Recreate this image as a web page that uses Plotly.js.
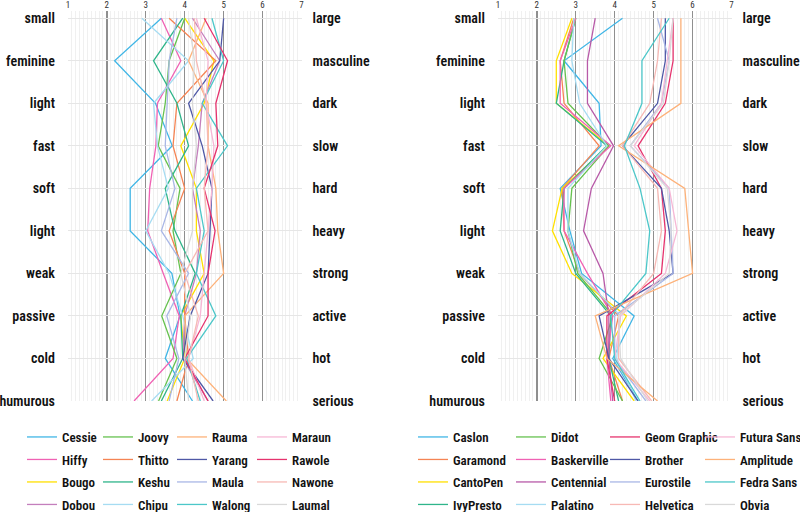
<!DOCTYPE html>
<html>
<head>
<meta charset="utf-8">
<script src="https://cdn.plot.ly/plotly-3.0.1.min.js"></script>
<style>
html,body{margin:0;padding:0;background:#fff;}
#chart{width:800px;height:512px;}
</style>
</head>
<body>
<div id="chart"></div>
<script>
// Row labels (left pole / right pole)
const leftPoles = ['small','feminine','light','fast','soft','light','weak','passive','cold','humurous'];
const rightPoles = ['large','masculine','dark','slow','hard','heavy','strong','active','hot','serious'];
const scaleTicks = [1,2,3,4,5,6,7];

// Panel 1 fonts (values per row, top to bottom)
const panel1Names = ['Cessie','Hiffy','Bougo','Dobou','Joovy','Thitto','Keshu','Chipu','Rauma','Yarang','Maula','Walong','Maraun','Rawole','Nawone','Laumal'];
const cessie = [3.4, 2.2, 3.25, 3.68, 2.6, 2.6, 3.67, 3.88, 3.5, 4.2];
const hiffy  = [3.4, 3.9, 3.3, 3.26, 3.1, 3.05, 3.45, 3.86, 3.7, 2.7];
const bougo  = [4.0, 4.75, 4.5, 3.9, 4.3, 4.3, 4.5, 3.9, 4.0, 3.55];
const dobou  = [4.2, 4.9, 4.45, 4.35, 4.2, 4.4, 4.3, 4.0, 3.95, 4.6];
const joovy  = [4.0, 3.6, 3.5, 3.32, 3.88, 3.7, 3.9, 3.41, 3.8, 3.33];
const thitto = [3.6, 4.8, 3.8, 3.7, 4.0, 3.6, 4.0, 4.0, 4.1, 3.8];
const keshu  = [3.95, 3.2, 3.8, 4.1, 3.5, 3.75, 4.27, 3.9, 3.95, 3.4];
const chipu  = [2.9, 4.1, 3.2, 3.3, 3.58, 3.0, 3.6, 3.95, 4.22, 3.15];
const rauma  = [4.55, 4.1, 4.6, 4.6, 4.8, 4.85, 5.0, 4.0, 4.05, 5.07];
const yarang = [5.0, 4.9, 4.1, 4.45, 4.7, 4.65, 4.6, 4.14, 3.95, 4.73];
const maula  = [3.8, 3.6, 3.55, 3.5, 3.75, 3.4, 4.1, 3.54, 3.85, 3.6];
const walong = [4.7, 5.0, 4.45, 5.1, 4.3, 4.5, 4.3, 4.8, 4.05, 4.4];
const maraun = [4.3, 4.6, 4.55, 4.75, 4.7, 4.6, 4.5, 4.4, 4.1, 4.5];
const rawole = [4.5, 5.1, 4.8, 4.85, 4.5, 4.78, 4.6, 4.6, 4.0, 4.6];
const nawone = [4.25, 4.3, 4.55, 4.6, 4.5, 4.6, 4.0, 4.35, 4.1, 4.35];
const laumal = [4.1, 4.25, 4.2, 4.3, 4.2, 4.2, 3.9, 4.15, 4.0, 4.1];
const panel1Values = [cessie,hiffy,bougo,dobou,joovy,thitto,keshu,chipu,rauma,yarang,maula,walong,maraun,rawole,nawone,laumal];
const panel1Colors = ['#41b6e6','#f062b4','#ffe000','#c47fbc','#66c24f','#f58454','#2fb58a','#a6dcf2','#fdb27a','#4f58a6','#a9b7e6','#4cc7c9','#f6b8d6','#e6336e','#f7b9b5','#d9d9d9'];

// Panel 2 fonts
const panel2Names = ['Caslon','Garamond','CantoPen','IvyPresto','Didot','Baskerville','Centennial','Palatino','Geom Graphic','Brother','Eurostile','Helvetica','Futura Sans','Amplitude','Fedra Sans','Obvia'];
const caslon      = [4.2, 2.7, 3.6, 3.65, 2.6, 2.85, 3.15, 4.5, 3.95, 4.6];
const garamond    = [2.95, 2.6, 2.7, 3.6, 2.65, 2.7, 3.1, 4.1, 3.85, 4.2];
const cantopen    = [2.9, 2.5, 2.5, 3.85, 2.65, 2.4, 2.9, 4.3, 3.7, 4.5];
const ivypresto   = [3.0, 2.7, 2.5, 3.8, 2.7, 2.6, 3.0, 3.9, 3.85, 4.1];
const didot       = [3.0, 2.7, 2.8, 3.85, 2.9, 2.8, 3.05, 3.95, 3.6, 4.2];
const baskerville = [3.0, 2.6, 2.6, 3.9, 2.7, 2.7, 3.3, 3.95, 3.8, 3.9];
const centennial  = [3.5, 3.3, 3.3, 3.97, 3.4, 3.2, 3.7, 3.85, 3.85, 3.95];
const palatino    = [2.95, 2.9, 3.1, 3.8, 2.8, 2.8, 3.1, 4.15, 4.05, 4.55];
const geomGraphic = [5.5, 5.5, 5.3, 4.6, 5.2, 5.3, 5.2, 3.8, 3.8, 4.0];
const brother     = [5.3, 5.3, 5.1, 4.2, 5.2, 5.4, 5.5, 3.6, 3.85, 4.6];
const eurostile   = [5.1, 5.4, 5.2, 4.4, 5.4, 5.45, 5.5, 4.0, 4.0, 4.8];
const helvetica   = [5.2, 5.1, 4.9, 4.2, 5.1, 5.2, 5.0, 4.1, 4.1, 4.95];
const futuraSans  = [5.5, 5.35, 5.2, 4.5, 5.4, 5.6, 5.3, 4.15, 4.0, 4.9];
const amplitude   = [5.7, 5.7, 5.7, 4.1, 5.8, 5.9, 6.0, 3.5, 3.8, 5.1];
const fedraSans   = [5.4, 4.7, 4.7, 4.25, 4.65, 4.9, 4.8, 3.9, 4.0, 4.65];
const obvia       = [5.5, 5.4, 5.25, 4.4, 5.35, 5.45, 5.4, 4.1, 4.15, 4.85];
const panel2Values = [caslon,garamond,cantopen,ivypresto,didot,baskerville,centennial,palatino,geomGraphic,brother,eurostile,helvetica,futuraSans,amplitude,fedraSans,obvia];
const panel2Colors = ['#41b6e6','#f58454','#ffe000','#2fb58a','#66c24f','#f062b4','#b85aa8','#a6dcf2','#e6336e','#4f58a6','#a9b7e6','#f7b9b5','#f6b8d6','#fdb27a','#4cc7c9','#d9d9d9'];

const FONT = '"Roboto Condensed", Roboto, sans-serif';
const rowPos = leftPoles.map((_, i) => i);

const traces = [];
function addPanel(names, values, colors, xa, ya, legendBase) {
  names.forEach((n, i) => {
    const col = Math.floor(i / 4);
    const lg = legendBase + col;
    traces.push({
      type: 'scatter', mode: 'lines', name: n,
      x: values[i], y: rowPos,
      xaxis: xa, yaxis: ya,
      line: {color: colors[i], width: 1.3},
      legend: lg === 1 ? 'legend' : 'legend' + lg,
      legendgroup: n,
      hoverinfo: 'skip'
    });
  });
}
addPanel(panel1Names, panel1Values, panel1Colors, 'x', 'y', 1);
addPanel(panel2Names, panel2Values, panel2Colors, 'x2', 'y3', 5);
// empty traces so the right-hand (overlaying) label axes are registered and drawn
traces.push({type: 'scatter', mode: 'lines', x: [], y: [], xaxis: 'x', yaxis: 'y2', showlegend: false, hoverinfo: 'skip'});
traces.push({type: 'scatter', mode: 'lines', x: [], y: [], xaxis: 'x2', yaxis: 'y4', showlegend: false, hoverinfo: 'skip'});

const W = 800, H = 512;
const yTop = 11, yBot = 401;
const yDomain = [(H - yBot) / H, (H - yTop) / H];
const yRange = [9, -0.17];

function xAxis(domain, anchor) {
  return {
    domain: domain, anchor: anchor, range: [0.995, 7.005], side: 'top',
    tickvals: scaleTicks, ticktext: scaleTicks.map(String),
    tickfont: {family: FONT, size: 9, color: '#333'},
    showgrid: true, gridcolor: '#8f8f8f', gridwidth: 1.4,
    zeroline: false, showline: false, ticks: '',
    minor: {dtick: 0.1, showgrid: true, gridcolor: '#f0f0f0', gridwidth: 1},
    fixedrange: true, automargin: false
  };
}
function yAxis(anchor, text, side, overlay) {
  const a = {
    anchor: anchor, range: yRange, side: side,
    tickvals: rowPos, ticktext: text,
    tickfont: {family: FONT, size: 14, color: '#111', weight: 600},
    ticks: 'outside', ticklen: overlay ? 7 : 9, tickcolor: 'rgba(0,0,0,0)',
    showgrid: !overlay, gridcolor: '#e6e6e6', gridwidth: 1,
    zeroline: false, showline: false, fixedrange: true, automargin: false
  };
  if (overlay) a.overlaying = overlay; else a.domain = yDomain;
  return a;
}

const legendTextX = [62, 138, 212, 292, 453, 551, 645, 740];
const layout = {
  width: W, height: H,
  margin: {l: 0, r: 0, t: 0, b: 0, autoexpand: false},
  paper_bgcolor: '#fff', plot_bgcolor: '#fff',
  hovermode: false,
  showlegend: true,
  xaxis: xAxis([67.7 / W, 301.7 / W], 'y'),
  yaxis: yAxis('x', leftPoles, 'left', null),
  yaxis2: yAxis('x', rightPoles, 'right', 'y'),
  xaxis2: xAxis([497.7 / W, 731.7 / W], 'y3'),
  yaxis3: yAxis('x2', leftPoles, 'left', null),
  yaxis4: yAxis('x2', rightPoles, 'right', 'y3')
};
legendTextX.forEach((tx, k) => {
  const key = k === 0 ? 'legend' : 'legend' + (k + 1);
  layout[key] = {
    x: (tx - 40) / W, xanchor: 'left',
    y: (H - 422) / H, yanchor: 'top',
    orientation: 'v', bgcolor: 'rgba(0,0,0,0)', borderwidth: 0,
    font: {family: FONT, size: 13, color: '#111', weight: 600},
    traceorder: 'grouped', tracegroupgap: 2.6
  };
});

Plotly.newPlot('chart', traces, layout, {displayModeBar: false, staticPlot: true});
</script>
</body>
</html>
